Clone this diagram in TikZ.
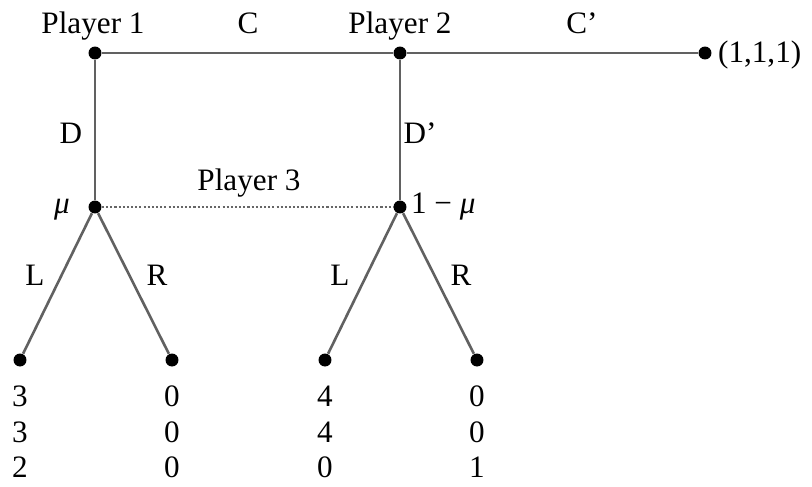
\documentclass[tikz,border=0pt]{standalone}
\usepackage{fontspec}
\setmainfont{Liberation Serif}
\usetikzlibrary{positioning}

\begin{document}
\begin{tikzpicture}[x=0.385pt,y=-0.385pt,
  dot/.style={circle, fill=black, inner sep=0pt, minimum size=5pt},
  edge/.style={draw=black!62, line width=1pt},
  lab/.style={font=\fontsize{12}{13.7}\selectfont, inner sep=1pt, anchor=base},
  pay/.style={lab, align=center}]
\useasboundingbox (0,0) rectangle (812,486);
% decision nodes
\node[dot] (p1) at (95,53) {};
\node[dot] (p2) at (400,53) {};
\node[dot] (end) at (705,53) {};
\node[dot] (p3a) at (95,207) {};
\node[dot] (p3b) at (400,207) {};
% leaves
\node[dot] (ll) at (20,360) {};
\node[dot] (lr) at (172,360) {};
\node[dot] (rl) at (325,360) {};
\node[dot] (rr) at (477,360) {};
% edges
\draw[edge] (p1) -- (p2) -- (end);
\draw[edge] (p1) -- (p3a);
\draw[edge] (p2) -- (p3b);
\draw[black!60, line width=0.6pt, dash pattern=on 0.8pt off 0.8pt] (p3a) -- (p3b);
\draw[edge] (p3a) -- (ll);
\draw[edge] (p3a) -- (lr);
\draw[edge] (p3b) -- (rl);
\draw[edge] (p3b) -- (rr);
% labels
\node[lab] (n1) at (93,33) {Player 1};
\node[lab] (n2) at (400,33) {Player 2};
\node[lab] (n3) at (249,190) {Player 3};
\node[lab] (c) at (248,33) {C};
\node[lab] (c2) at (582,33) {C’};
\node[lab] (d) at (71,143) {D};
\node[lab] (d2) at (420,143) {D’};
\node[lab, anchor=west] (out) at (715,55) {(1,1,1)};
\node[lab] (mu) at (62,213) {\textit{μ}};
\node[lab, anchor=base west] (mu2) at (408,213) {1 − \textit{μ}};
\node[lab] (l1) at (35,285) {L};
\node[lab] (r1) at (157,285) {R};
\node[lab] (l2) at (340,285) {L};
\node[lab] (r2) at (461,285) {R};
% payoffs
\node[pay, anchor=center] (y1) at (20,432) {3\\3\\2};
\node[pay, anchor=center] (y2) at (172,432) {0\\0\\0};
\node[pay, anchor=center] (y3) at (325,432) {4\\4\\0};
\node[pay, anchor=center] (y4) at (477,432) {0\\0\\1};
\end{tikzpicture}
\end{document}
